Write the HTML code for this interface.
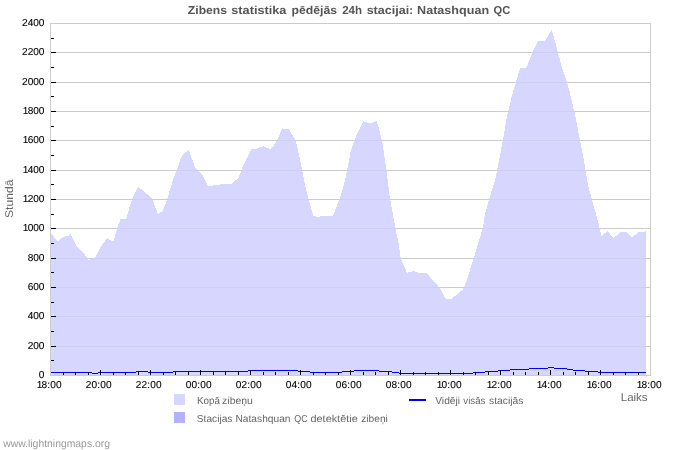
<!DOCTYPE html>
<html><head><meta charset="utf-8"><title>Zibens statistika</title>
<style>html,body{margin:0;padding:0;background:#fff;}svg{display:block;}text{font-family:"Liberation Sans",sans-serif;filter:grayscale(1);text-rendering:geometricPrecision;}</style></head>
<body>
<svg width="700" height="450" viewBox="0 0 700 450">
<rect x="0" y="0" width="700" height="450" fill="#ffffff"/>
<path d="M51 346.5 H650 M51 316.5 H650 M51 287.5 H650 M51 258.5 H650 M51 228.5 H650 M51 199.5 H650 M51 170.5 H650 M51 140.5 H650 M51 111.5 H650 M51 82.5 H650 M51 52.5 H650" stroke="#cccccc" stroke-width="1" fill="none" shape-rendering="crispEdges"/>
<rect x="50.5" y="23.5" width="600" height="352" fill="none" stroke="#cccccc" stroke-width="1" shape-rendering="crispEdges"/>
<polygon points="51,233.7 57.8,241.1 60.4,239.3 63.4,237.1 65.8,236 68.4,235.7 70.7,233.9 77,246.6 83.4,252.9 87.6,258.3 88.3,260.1 90.3,260.1 90.9,258.4 94.6,258.2 100.7,247.1 107.1,237.9 111.4,241.1 113.6,241.1 117.1,228.6 120.3,219.3 126.2,218.8 132.1,198.6 138.3,186.9 142.9,190.3 151.4,197.9 152.9,200.7 157.9,214 162.9,210.7 166.4,201.5 172.9,180 175.9,172 182.1,155 185,152.9 188.6,150 190.7,155.7 195.7,168.6 202.3,175 207.9,185.7 212.9,186 213.6,185 220,185 220.7,184 231.4,184 234.3,181.4 238.3,178.3 243.2,165.7 251.2,149.2 257,148.8 260,147 263.6,146.3 266.4,148 271,148.9 275.9,142.5 282.1,128.9 282.5,127.9 283.1,129 288.6,128.9 294.3,138 296.4,143 300.5,162 304.3,181.6 308.6,200 313.6,216.4 320,216.7 320.3,215.7 332.9,215.7 339.3,200 345,180.7 347.5,168 350.7,151.4 355.7,137.1 363.3,121.1 367.9,122.9 372.9,122.6 376.4,121.1 378.6,127.1 382.5,142.9 386.6,171.5 390,198.6 396.4,233.6 398.1,240 400.7,258.6 407.1,272.9 413.6,271.1 418.6,272.9 426.7,273.1 430.7,277.9 435.7,282.9 440,288.6 445.7,298.6 451.4,298.6 456.4,295 462.9,289.3 466.4,281.4 473.6,258.6 478.5,242 482.9,227.9 485,214.3 489.3,198.6 495,180 497.1,170.3 502.9,140.3 507.1,116 512.1,94.9 516.4,80.7 520,68 526.3,67.7 532.2,53 538.1,41.1 545,40.9 551.4,30.1 552.9,33.7 557.9,52.3 562.1,68 566.4,80.7 569.3,90.6 573.6,109.1 574.3,111.4 580,140 583.8,160 585.7,170.7 588.1,185.7 592.1,200 598.6,223.6 601.4,235.7 607.6,231 613.3,238.3 620.7,232.1 626.4,232.1 632.1,237.4 638.6,232.1 644.3,231.9 646,231 646,375 51,375" fill="#cdcdff" fill-opacity="0.82" shape-rendering="crispEdges"/>
<path d="M51 372.5 H92 M92 373.5 H98 M98 372.5 H136 M136 371.5 H148 M148 372.5 H173 M173 371.5 H248 M248 370.5 H298 M298 371.5 H310 M310 372.5 H342 M342 371.5 H354 M354 370.5 H379 M379 371.5 H392 M392 372.5 H399 M399 373.5 H473 M473 372.5 H485 M485 371.5 H498 M498 370.5 H510 M510 369.5 H529 M529 368.5 H548 M548 367.5 H554 M554 368.5 H567 M567 369.5 H573 M573 370.5 H585 M585 371.5 H598 M598 372.5 H646" stroke="#0000ff" stroke-width="1" fill="none" shape-rendering="crispEdges"/>
<path d="M51 360.5 h3 M51 346.5 h5 M51 331.5 h3 M51 316.5 h5 M51 302.5 h3 M51 287.5 h5 M51 272.5 h3 M51 258.5 h5 M51 243.5 h3 M51 228.5 h5 M51 214.5 h3 M51 199.5 h5 M51 184.5 h3 M51 170.5 h5 M51 155.5 h3 M51 140.5 h5 M51 126.5 h3 M51 111.5 h5 M51 96.5 h3 M51 82.5 h5 M51 67.5 h3 M51 52.5 h5 M51 38.5 h3 M63.5 375 v-3 M75.5 375 v-3 M88.5 375 v-3 M100.5 375 v-5 M113.5 375 v-3 M125.5 375 v-3 M138.5 375 v-3 M150.5 375 v-5 M163.5 375 v-3 M175.5 375 v-3 M188.5 375 v-3 M200.5 375 v-5 M213.5 375 v-3 M225.5 375 v-3 M238.5 375 v-3 M250.5 375 v-5 M263.5 375 v-3 M275.5 375 v-3 M288.5 375 v-3 M300.5 375 v-5 M313.5 375 v-3 M325.5 375 v-3 M338.5 375 v-3 M350.5 375 v-5 M363.5 375 v-3 M375.5 375 v-3 M388.5 375 v-3 M400.5 375 v-5 M413.5 375 v-3 M425.5 375 v-3 M438.5 375 v-3 M450.5 375 v-5 M463.5 375 v-3 M475.5 375 v-3 M488.5 375 v-3 M500.5 375 v-5 M513.5 375 v-3 M525.5 375 v-3 M538.5 375 v-3 M550.5 375 v-5 M563.5 375 v-3 M575.5 375 v-3 M588.5 375 v-3 M600.5 375 v-5 M613.5 375 v-3 M625.5 375 v-3 M638.5 375 v-3" stroke="#000" stroke-width="1" fill="none" shape-rendering="crispEdges"/>
<text x="187.85" y="13.9" font-size="11.5" fill="#555555" text-anchor="start" font-weight="bold" textLength="39.13" lengthAdjust="spacingAndGlyphs">Zibens</text>
<text x="231.28" y="13.9" font-size="11.5" fill="#555555" text-anchor="start" font-weight="bold" textLength="55.19" lengthAdjust="spacingAndGlyphs">statistika</text>
<text x="291.54" y="13.9" font-size="11.5" fill="#555555" text-anchor="start" font-weight="bold" textLength="45.58" lengthAdjust="spacingAndGlyphs">pēdējās</text>
<text x="342.19" y="13.9" font-size="11.5" fill="#555555" text-anchor="start" font-weight="bold" textLength="19.93" lengthAdjust="spacingAndGlyphs">24h</text>
<text x="366.67" y="13.9" font-size="11.5" fill="#555555" text-anchor="start" font-weight="bold" textLength="46.62" lengthAdjust="spacingAndGlyphs">stacijai:</text>
<text x="417.08" y="13.9" font-size="11.5" fill="#555555" text-anchor="start" font-weight="bold" textLength="72.01" lengthAdjust="spacingAndGlyphs">Natashquan</text>
<text x="493.54" y="13.9" font-size="11.5" fill="#555555" text-anchor="start" font-weight="bold" textLength="16.71" lengthAdjust="spacingAndGlyphs">QC</text>
<text x="38.79" y="378" font-size="10.1" fill="#000000" stroke="#000" stroke-width="0.1">0</text>
<text x="27.67 33.23 38.79" y="349" font-size="10.1" fill="#000000" stroke="#000" stroke-width="0.1">200</text>
<text x="27.67 33.23 38.79" y="319" font-size="10.1" fill="#000000" stroke="#000" stroke-width="0.1">400</text>
<text x="27.67 33.23 38.79" y="290" font-size="10.1" fill="#000000" stroke="#000" stroke-width="0.1">600</text>
<text x="27.67 33.23 38.79" y="261" font-size="10.1" fill="#000000" stroke="#000" stroke-width="0.1">800</text>
<text x="22.81 27.67 33.23 38.79" y="231" font-size="10.1" fill="#000000" stroke="#000" stroke-width="0.1">1000</text>
<text x="22.81 27.67 33.23 38.79" y="202" font-size="10.1" fill="#000000" stroke="#000" stroke-width="0.1">1200</text>
<text x="22.81 27.67 33.23 38.79" y="173" font-size="10.1" fill="#000000" stroke="#000" stroke-width="0.1">1400</text>
<text x="22.81 27.67 33.23 38.79" y="143" font-size="10.1" fill="#000000" stroke="#000" stroke-width="0.1">1600</text>
<text x="22.81 27.67 33.23 38.79" y="114" font-size="10.1" fill="#000000" stroke="#000" stroke-width="0.1">1800</text>
<text x="22.11 27.67 33.23 38.79" y="85" font-size="10.1" fill="#000000" stroke="#000" stroke-width="0.1">2000</text>
<text x="22.11 27.67 33.23 38.79" y="55" font-size="10.1" fill="#000000" stroke="#000" stroke-width="0.1">2200</text>
<text x="22.11 27.67 33.23 38.79" y="26" font-size="10.1" fill="#000000" stroke="#000" stroke-width="0.1">2400</text>
<text x="36.75 41.59 47.34 50.27 56.01" y="388" font-size="10.1" fill="#000000" stroke="#000" stroke-width="0.1">18:00</text>
<text x="85.85 91.59 97.34 100.27 106.01" y="388" font-size="10.1" fill="#000000" stroke="#000" stroke-width="0.1">20:00</text>
<text x="135.85 141.59 147.34 150.27 156.01" y="388" font-size="10.1" fill="#000000" stroke="#000" stroke-width="0.1">22:00</text>
<text x="185.85 191.59 197.34 200.27 206.01" y="388" font-size="10.1" fill="#000000" stroke="#000" stroke-width="0.1">00:00</text>
<text x="235.85 241.59 247.34 250.27 256.01" y="388" font-size="10.1" fill="#000000" stroke="#000" stroke-width="0.1">02:00</text>
<text x="285.85 291.59 297.34 300.27 306.01" y="388" font-size="10.1" fill="#000000" stroke="#000" stroke-width="0.1">04:00</text>
<text x="335.85 341.59 347.34 350.27 356.01" y="388" font-size="10.1" fill="#000000" stroke="#000" stroke-width="0.1">06:00</text>
<text x="385.85 391.59 397.34 400.27 406.01" y="388" font-size="10.1" fill="#000000" stroke="#000" stroke-width="0.1">08:00</text>
<text x="436.75 441.59 447.34 450.27 456.01" y="388" font-size="10.1" fill="#000000" stroke="#000" stroke-width="0.1">10:00</text>
<text x="486.75 491.59 497.34 500.27 506.01" y="388" font-size="10.1" fill="#000000" stroke="#000" stroke-width="0.1">12:00</text>
<text x="536.75 541.59 547.34 550.27 556.01" y="388" font-size="10.1" fill="#000000" stroke="#000" stroke-width="0.1">14:00</text>
<text x="586.75 591.59 597.34 600.27 606.01" y="388" font-size="10.1" fill="#000000" stroke="#000" stroke-width="0.1">16:00</text>
<text x="636.75 641.59 647.34 650.27 656.01" y="388" font-size="10.1" fill="#000000" stroke="#000" stroke-width="0.1">18:00</text>
<text x="620.74" y="401" font-size="11.2" fill="#666666" text-anchor="start" font-weight="normal" textLength="26.89" lengthAdjust="spacingAndGlyphs">Laiks</text>
<g transform="translate(12.9,218.0) rotate(-90)">
<text x="0" y="0" font-size="11.2" fill="#666666" text-anchor="start" font-weight="normal" textLength="38.4" lengthAdjust="spacingAndGlyphs">Stundā</text>
</g>
<rect x="174" y="394" width="11" height="11" fill="#d6d6ff" shape-rendering="crispEdges"/>
<rect x="174" y="412" width="11" height="11" fill="#b2b2ff" shape-rendering="crispEdges"/>
<rect x="409" y="399" width="17" height="2" fill="#0000ff" shape-rendering="crispEdges"/>
<text x="196.9" y="403.8" font-size="10.1" fill="#666666" text-anchor="start" font-weight="normal" textLength="22.98" lengthAdjust="spacingAndGlyphs">Kopā</text>
<text x="222.08" y="403.8" font-size="10.1" fill="#666666" text-anchor="start" font-weight="normal" textLength="30.86" lengthAdjust="spacingAndGlyphs">zibeņu</text>
<text x="196.85" y="421.7" font-size="10.1" fill="#666666" text-anchor="start" font-weight="normal" textLength="35.59" lengthAdjust="spacingAndGlyphs">Stacijas</text>
<text x="235.5" y="421.7" font-size="10.1" fill="#666666" text-anchor="start" font-weight="normal" textLength="55" lengthAdjust="spacingAndGlyphs">Natashquan</text>
<text x="294.35" y="421.7" font-size="10.1" fill="#666666" text-anchor="start" font-weight="normal" textLength="13.37" lengthAdjust="spacingAndGlyphs">QC</text>
<text x="310.52" y="421.7" font-size="10.1" fill="#666666" text-anchor="start" font-weight="normal" textLength="47.18" lengthAdjust="spacingAndGlyphs">detektētie</text>
<text x="361.19" y="421.7" font-size="10.1" fill="#666666" text-anchor="start" font-weight="normal" textLength="26.63" lengthAdjust="spacingAndGlyphs">zibeņi</text>
<text x="435.22" y="403.9" font-size="10.1" fill="#666666" text-anchor="start" font-weight="normal" textLength="24.84" lengthAdjust="spacingAndGlyphs">Vidēji</text>
<text x="463.35" y="403.9" font-size="10.1" fill="#666666" text-anchor="start" font-weight="normal" textLength="21.97" lengthAdjust="spacingAndGlyphs">visās</text>
<text x="489.08" y="403.9" font-size="10.1" fill="#666666" text-anchor="start" font-weight="normal" textLength="34.45" lengthAdjust="spacingAndGlyphs">stacijās</text>
<text x="3.2" y="447.1" font-size="10.5" fill="#999999" text-anchor="start" font-weight="normal" textLength="106.8" lengthAdjust="spacingAndGlyphs">www.lightningmaps.org</text>
</svg>
</body></html>
